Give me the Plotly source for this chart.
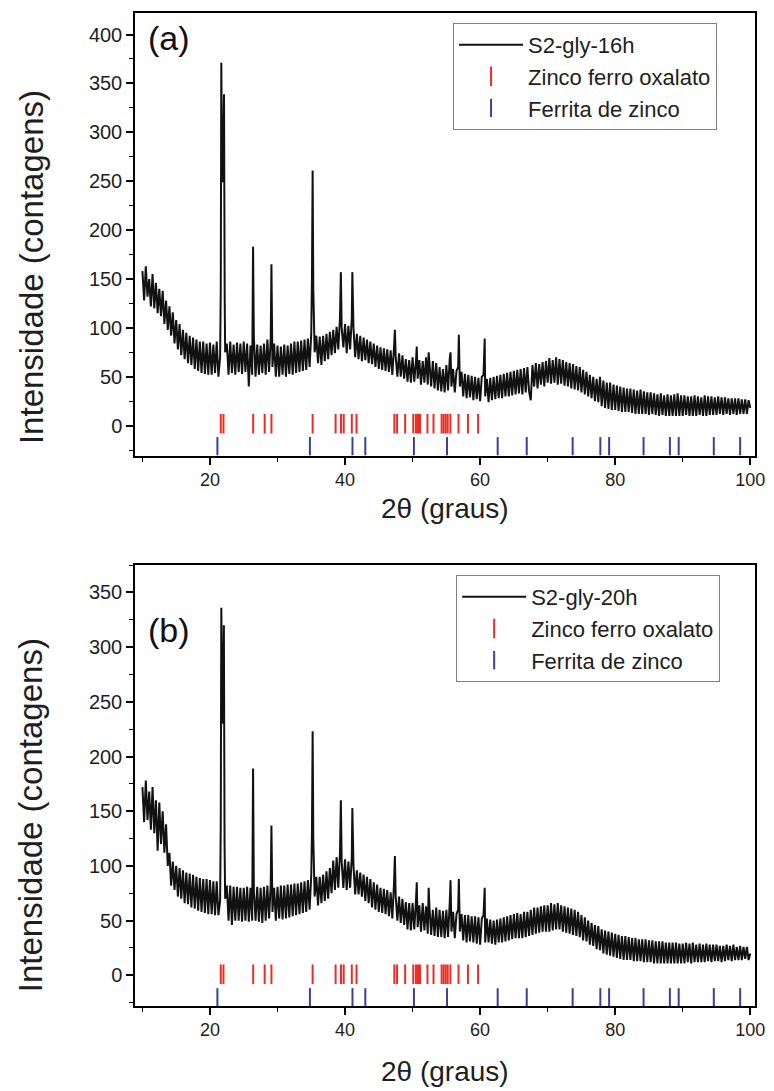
import numpy as np
import plotly.graph_objects as go

# ---------------- data ----------------
STEP = 0.25  # 2theta sampling of the background arrays (starting at 10 deg)

# panel (a) S2-gly-16h : background intensity every 0.25 deg from 10 to 100
int_a = [
    158,128,163,132, 150,122,155,120, 146,115,140,112, 138,104,128,98, 122,92,116,84,
    108,78,104,72, 98,68,95,64, 92,62,90,58, 88,56,86,54, 86,53,84,52,
    85,52,83,54, 86,50,70,300, 300,75,84,52, 86,54,83,52, 85,55,84,53,
    86,55,84,40, 82,52,90,50, 83,52,82,54, 84,52,88,55, 90,60,84,50,
    82,50,81,52, 83,50,82,53, 84,52,86,54, 86,55,87,56, 88,57,89,60,
    95,200,75,92, 64,91,62,92, 66,94,68,96, 72,98,74,101, 78,110,100,80,
    104,74,102,78, 110,100,70,94, 68,92,66,90, 67,88,64,86, 63,84,60,82,
    58,80,57,79, 56,78,55,77, 52,80,70,50, 74,50,72,48, 68,45,67,44,
    70,45,66,48, 67,42,66,44, 70,42,64,40, 66,38,64,36, 60,35,58,34,
    62,36,68,40, 58,34,56,60, 40,55,30,53, 28,52,29,51, 26,50,27,49,
    25,50,52,30, 48,24,49,26, 50,27,51,28, 52,28,53,30, 54,30,55,31,
    56,32,57,33, 58,32,59,34, 60,35,26,62, 40,64,38,63, 42,65,40,66,
    44,69,43,67, 44,70,42,68, 43,67,41,65, 40,64,38,63, 37,61,36,60,
    34,57,32,55, 30,52,28,50, 25,48,24,50, 20,46,18,44, 17,44,16,42,
    16,41,15,40, 14,39,14,38, 14,38,13,37, 12,36,12,37, 12,35,12,34,
    11,34,12,33, 11,32,10,33, 11,31,10,32, 10,31,10,32, 10,33,10,31,
    10,31,11,30, 10,30,10,31, 10,30,11,29, 10,31,10,30, 11,30,11,29,
    11,30,12,29, 11,29,12,28, 11,28,12,28, 11,28,12,27, 12,27,12,26, 18,
]
# panel (a) peak points
peak_a_x = [21.6, 21.68, 21.82, 21.92, 22.08, 22.18, 26.38, 29.1, 35.1, 35.2, 35.3,
            39.38, 41.08, 47.38, 50.62, 52.38, 55.62, 56.85, 60.68]
peak_a_y = [140, 371, 250, 250, 339, 130, 183, 165, 150, 261, 140,
            157, 157, 98, 81, 75, 75, 93, 89]

# panel (b) S2-gly-20h
int_b = [
    172,140,178,142, 168,133,172,130, 160,114,158,120, 150,112,138,100, 112,82,104,78,
    100,72,98,70, 96,66,94,65, 93,62,92,61, 90,59,89,58, 88,57,88,56,
    87,56,86,55, 86,55,68,290, 285,70,82,50, 82,46,81,50, 81,50,80,49,
    80,50,81,49, 80,50,78,50, 81,49,80,48, 81,50,82,52, 84,58,80,50,
    81,52,82,51, 82,52,83,53, 83,54,84,55, 84,56,85,57, 86,58,87,60,
    92,180,72,90, 64,90,66,92, 68,95,70,98, 75,105,78,108, 80,112,104,80,
    106,78,104,80, 108,100,74,96, 74,94,72,92, 68,90,66,88, 62,85,60,83,
    58,80,57,79, 56,78,54,76, 52,84,72,50, 72,48,70,46, 67,42,66,41,
    66,42,68,44, 64,40,66,41, 63,38,62,37, 60,36,62,35, 60,35,59,34,
    60,35,66,40, 58,34,56,60, 40,56,32,55, 30,55,31,54, 30,54,29,53,
    28,52,55,30, 52,30,51,29, 50,28,51,30, 52,30,53,31, 54,32,55,33,
    56,34,57,34, 56,34,58,35, 58,36,60,37, 62,38,62,39, 63,40,64,40,
    64,40,66,41, 65,42,66,42, 64,40,63,39, 62,38,61,37, 60,36,58,35,
    55,32,53,31, 50,28,48,27, 46,24,45,23, 42,20,41,19, 40,18,39,17,
    38,16,37,15, 36,14,36,14, 35,14,34,13, 34,13,33,13, 33,12,33,12,
    32,12,32,11, 31,11,31,11, 31,11,30,11, 30,11,30,11, 30,11,29,11,
    29,11,30,12, 29,11,30,12, 28,12,29,12, 28,12,29,13, 28,12,28,13,
    28,13,27,12, 27,13,28,14, 27,13,28,14, 26,14,27,14, 26,15,26,14, 20,
]
peak_b_x = [21.6, 21.68, 21.8, 21.92, 22.06, 22.16, 26.38, 29.1, 35.1, 35.2, 35.3,
            39.38, 41.08, 47.38, 50.62, 52.38, 55.62, 56.85, 60.68]
peak_b_y = [140, 336, 230, 235, 320, 120, 189, 137, 130, 223, 125,
            160, 153, 109, 85, 80, 87, 88, 80]

# reference reflection positions (2theta)
oxalato_pos = [21.6, 22.0, 26.4, 28.1, 29.1, 35.2, 38.6, 39.4, 39.8, 41.0, 41.7,
               47.3, 47.7, 48.9, 50.1, 50.5, 50.8, 51.1, 52.2, 53.1, 54.3, 54.6,
               54.9, 55.2, 55.6, 56.8, 58.2, 59.7]
ferrita_pos = [21.1, 34.8, 41.1, 43.0, 50.2, 55.1, 62.6, 66.9, 73.7, 77.8, 79.1,
               84.2, 88.1, 89.4, 94.6, 98.5]

names = ["S2-gly-16h", "S2-gly-20h"]
panel_labels = ["(a)", "(b)"]
ref_names = ["Zinco ferro oxalato", "Ferrita de zinco"]
x_title = "2θ (graus)"
y_title = "Intensidade (contagens)"


def pattern(vals, px, py):
    gx = 10 + STEP * np.arange(len(vals))
    x = np.concatenate([gx, np.array(px, float)])
    y = np.concatenate([np.array(vals, float), np.array(py, float)])
    o = np.argsort(x, kind="stable")
    return x[o], y[o]


xa, ya = pattern(int_a, peak_a_x, peak_a_y)
xb, yb = pattern(int_b, peak_b_x, peak_b_y)

# ---------------- figure ----------------
FONT = "Arial, Liberation Sans, sans-serif"
TXT = "#1e1e1e"
RED = "#ee2b24"
BLUE = "#3b3f9a"
fig = go.Figure()

levels = [(2, -21), (1, -20)]  # y positions of the reflection bars in each panel
for i, (x, y) in enumerate([(xa, ya), (xb, yb)]):
    xr = "x" if i == 0 else "x2"
    yr = "y" if i == 0 else "y2"
    leg = "legend" if i == 0 else "legend2"
    fig.add_trace(go.Scatter(x=x, y=y, mode="lines", name=names[i],
                             line=dict(color="#111111", width=2.0, simplify=False),
                             xaxis=xr, yaxis=yr, legend=leg))
    fig.add_trace(go.Scatter(x=oxalato_pos, y=[levels[i][0]] * len(oxalato_pos),
                             mode="markers", name=ref_names[0],
                             marker=dict(symbol="line-ns", size=14,
                                         line=dict(color=RED, width=2)),
                             xaxis=xr, yaxis=yr, legend=leg))
    fig.add_trace(go.Scatter(x=ferrita_pos, y=[levels[i][1]] * len(ferrita_pos),
                             mode="markers", name=ref_names[1],
                             marker=dict(symbol="line-ns", size=13,
                                         line=dict(color=BLUE, width=2)),
                             xaxis=xr, yaxis=yr, legend=leg))

xcommon = dict(range=[8.9, 100.7], tickmode="linear", tick0=0, dtick=20,
               ticks="outside", ticklen=7, tickwidth=1.5, tickcolor="black",
               minor=dict(dtick=10, tick0=0, ticks="outside", ticklen=4,
                          tickwidth=1.2, tickcolor="black"),
               showline=True, linecolor="black", linewidth=1.5, mirror=True,
               showgrid=False, zeroline=False, automargin=False,
               tickfont=dict(family=FONT, size=18, color=TXT))
ycommon = dict(tickmode="linear", tick0=0, dtick=50,
               ticks="outside", ticklen=7, tickwidth=1.5, tickcolor="black",
               minor=dict(dtick=25, tick0=0, ticks="outside", ticklen=4,
                          tickwidth=1.2, tickcolor="black"),
               showline=True, linecolor="black", linewidth=1.5, mirror=True,
               showgrid=False, zeroline=False, automargin=False,
               tickfont=dict(family=FONT, size=20, color=TXT))

legcommon = dict(xanchor="left", yanchor="top", bgcolor="white",
                 bordercolor="#7f7f7f", borderwidth=1, itemwidth=64,
                 font=dict(family=FONT, size=22, color=TXT),
                 tracegroupgap=0)

ya_dom = [0.5539, 1.0]
yb_dom = [0.0, 0.4441]

annots = [
    dict(text=panel_labels[0], xref="x domain", yref="y domain", x=0.018, y=0.99,
         xanchor="left", yanchor="top", showarrow=False,
         font=dict(family=FONT, size=34, color="#111")),
    dict(text=panel_labels[1], xref="x2 domain", yref="y2 domain", x=0.018, y=0.9,
         xanchor="left", yanchor="top", showarrow=False,
         font=dict(family=FONT, size=34, color="#111")),
    # axis titles
    dict(text=y_title, xref="paper", yref="paper", x=-0.168, y=0.744,
         textangle=-90, xanchor="center", yanchor="middle", showarrow=False,
         font=dict(family=FONT, size=33, color=TXT)),
    dict(text=y_title, xref="paper", yref="paper", x=-0.168, y=0.192,
         textangle=-90, xanchor="center", yanchor="middle", showarrow=False,
         font=dict(family=FONT, size=33, color=TXT)),
    dict(text=x_title, xref="paper", yref="paper", x=0.5, y=0.501,
         xanchor="center", yanchor="middle", showarrow=False,
         font=dict(family=FONT, size=28, color=TXT)),
    dict(text=x_title, xref="paper", yref="paper", x=0.5, y=-0.066,
         xanchor="center", yanchor="middle", showarrow=False,
         font=dict(family=FONT, size=28, color=TXT)),
]

fig.update_layout(
    width=774, height=1091,
    margin=dict(l=135, r=19, t=13, b=85, autoexpand=False),
    paper_bgcolor="white", plot_bgcolor="white",
    showlegend=True,
    xaxis=dict(xcommon, anchor="y", domain=[0, 1]),
    yaxis=dict(ycommon, anchor="x", domain=ya_dom, range=[-31, 422]),
    xaxis2=dict(xcommon, anchor="y2", domain=[0, 1]),
    yaxis2=dict(ycommon, anchor="x2", domain=yb_dom, range=[-28, 375]),
    legend=dict(legcommon, x=0.513, y=0.99),
    legend2=dict(legcommon, x=0.518, y=0.434),
    annotations=annots,
)

fig.write_html("out.html", config={"displayModeBar": False},
               post_script="document.body.style.margin='0';document.body.style.padding='0';")
